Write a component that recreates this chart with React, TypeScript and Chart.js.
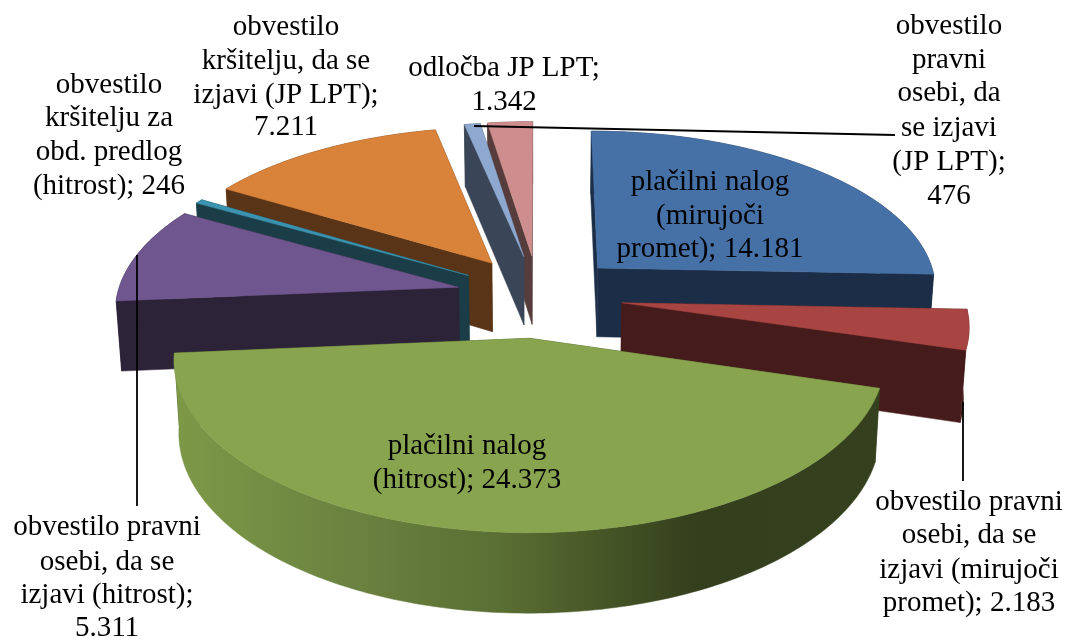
import React, { useEffect, useRef } from "react";
import { Chart, registerables } from "chart.js";

Chart.register(...registerables);

const categories = [
  "plačilni nalog (mirujoči promet)",
  "obvestilo pravni osebi, da se izjavi (mirujoči promet)",
  "plačilni nalog (hitrost)",
  "obvestilo pravni osebi, da se izjavi (hitrost)",
  "obvestilo kršitelju za obd. predlog (hitrost)",
  "obvestilo kršitelju, da se izjavi (JP LPT)",
  "obvestilo pravni osebi, da se izjavi (JP LPT)",
  "odločba JP LPT",
];
const values = [14181, 2183, 24373, 5311, 246, 7211, 476, 1342];
const topColors = ["#4671A7", "#A84442", "#88A44E", "#6F568E", "#3B93AF", "#D9823A", "#8FA8D0", "#CE8E8D"];
const wallColors = ["#1C2E47", "#451C1B", "#38451F", "#2D2339", "#1B3D47", "#5A3416", "#3A4657", "#573C3C"];
const labelLines = [
  ["plačilni nalog", "(mirujoči", "promet); 14.181"],
  ["obvestilo pravni", "osebi, da se", "izjavi (mirujoči", "promet); 2.183"],
  ["plačilni nalog", "(hitrost); 24.373"],
  ["obvestilo pravni", "osebi, da se", "izjavi (hitrost);", "5.311"],
  ["obvestilo", "kršitelju za", "obd. predlog", "(hitrost); 246"],
  ["obvestilo", "kršitelju, da se", "izjavi (JP LPT);", "7.211"],
  ["obvestilo", "pravni", "osebi, da", "se izjavi", "(JP LPT);", "476"],
  ["odločba JP LPT;", "1.342"],
];
const labelCenterX = [710, 969, 467, 107, 109, 286, 949, 504];
const labelLineY = [
  [182, 216, 249],
  [502, 535, 570, 603],
  [446, 480],
  [527, 562, 595, 628],
  [85, 118, 152, 186],
  [27, 61, 95, 127],
  [26, 60, 93, 128, 162, 196],
  [68, 102],
];
const leaderLines = [
  [474, 126, 895, 135],
  [137, 255, 137, 506],
  [963, 402, 963, 481],
];
const paintOrder = [7, 6, 0, 5, 4, 3, 1, 2];
const greenWallStops: [number, string][] = [
  [0, "#7D9947"],
  [0.25, "#6B8240"],
  [0.46, "#5A6F33"],
  [0.66, "#3F4D22"],
  [0.74, "#333F1D"],
  [1, "#35411E"],
];

const FONT = '29px "Liberation Serif", "Times New Roman", serif';

const pie3d = {
  id: "pie3d",
  beforeDatasetsDraw(chart: any) {
    const ctx: CanvasRenderingContext2D = chart.ctx;
    const arcs = chart.getDatasetMeta(0).data;

    const project = (el: any, a: number, rho: number, low: boolean) => {
      const mid = (el.startAngle + el.endAngle) / 2;
      const d = el.options.offset / 4;
      const rx = rho * Math.cos(a);
      const ry = rho * Math.sin(a);
      const ex = d * Math.cos(mid);
      const ey = d * Math.sin(mid);
      const xr = rx * 0.99;
      const xe = ex * (ex < 0 ? 0.92 : 0.95);
      const Y = ry + ey;
      const f = 1 / (1 - 0.00035 * Y);
      let x = el.x + (xr + xe) * f;
      let y = el.y + 0.463 * Y * f;
      if (low) {
        x = el.x + (x - el.x) * 0.987;
        y += 70 * Math.pow(f, 0.85);
      }
      return [x, y];
    };

    const fillPoly = (pts: number[][], fill: string | CanvasGradient) => {
      ctx.beginPath();
      pts.forEach((p, i) => (i ? ctx.lineTo(p[0], p[1]) : ctx.moveTo(p[0], p[1])));
      ctx.closePath();
      ctx.fillStyle = fill;
      ctx.strokeStyle = fill;
      ctx.lineWidth = 0.5;
      ctx.fill();
      ctx.stroke();
    };

    ctx.save();
    paintOrder.forEach((i) => {
      const el = arcs[i];
      const R = el.outerRadius;
      const n = Math.max(2, Math.ceil(((el.endAngle - el.startAngle) * 180) / Math.PI));
      const upper: number[][] = [];
      const lower: number[][] = [];
      for (let k = 0; k <= n; k++) {
        const a = el.startAngle + ((el.endAngle - el.startAngle) * k) / n;
        upper.push(project(el, a, R, false));
        lower.push(project(el, a, R, true));
      }
      const apexT = project(el, 0, 0, false);
      const apexB = project(el, 0, 0, true);
      const wall = wallColors[i];
      fillPoly([apexT, upper[0], lower[0], apexB], wall);
      fillPoly([apexT, upper[n], lower[n], apexB], wall);
      let outer: string | CanvasGradient = wall;
      if (i === 2) {
        const xs = upper.concat(lower).map((p) => p[0]);
        const g = ctx.createLinearGradient(Math.min(...xs), 0, Math.max(...xs), 0);
        greenWallStops.forEach(([s, c]) => g.addColorStop(s, c));
        outer = g;
      }
      fillPoly(upper.concat(lower.slice().reverse()), outer);
      fillPoly([apexT, ...upper], topColors[i]);
    });

    ctx.strokeStyle = "#000";
    ctx.lineWidth = 1.8;
    leaderLines.forEach(([x1, y1, x2, y2]) => {
      ctx.beginPath();
      ctx.moveTo(x1, y1);
      ctx.lineTo(x2, y2);
      ctx.stroke();
    });

    ctx.fillStyle = "#000";
    ctx.font = FONT;
    ctx.textAlign = "center";
    ctx.textBaseline = "middle";
    labelLines.forEach((lines, i) =>
      lines.forEach((t, j) => ctx.fillText(t, labelCenterX[i], labelLineY[i][j]))
    );
    ctx.restore();
    return false;
  },
};

export default function App() {
  const ref = useRef<HTMLCanvasElement>(null);
  useEffect(() => {
    const chart = new Chart(ref.current!, {
      type: "pie",
      data: {
        labels: categories,
        datasets: [
          {
            data: values,
            backgroundColor: topColors,
            borderWidth: 0,
            offset: 356,
          },
        ],
      },
      options: {
        animation: false,
        responsive: false,
        radius: 345,
        rotation: 0,
        events: [],
        layout: { padding: { left: 10, bottom: 46 } },
        plugins: { legend: { display: false }, tooltip: { enabled: false } },
      } as any,
      plugins: [pie3d as any],
    });
    return () => chart.destroy();
  }, []);
  return (
    <div style={{ position: "fixed", left: 0, top: 0, width: 1066, height: 638, background: "#fff" }}>
      <canvas ref={ref} width={1066} height={638} style={{ display: "block" }} />
    </div>
  );
}
